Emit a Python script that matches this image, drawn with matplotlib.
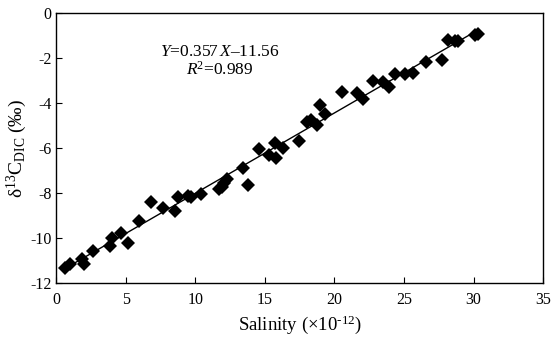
import matplotlib.pyplot as plt

# salinity (x10^-12) and d13C-DIC (permil)
salinity = [0.61, 0.97, 1.86, 1.98, 2.6, 3.85, 3.97, 4.62, 5.17, 5.96,
            6.78, 7.69, 8.53, 8.72, 9.44, 9.65, 10.37, 11.71, 11.88, 12.05,
            12.29, 13.39, 13.75, 14.59, 15.31, 15.72, 15.79, 16.32, 17.47, 18.0,
            18.29, 18.72, 18.96, 19.32, 20.52, 21.64, 22.03, 22.79, 23.51, 23.93,
            24.35, 25.07, 25.63, 26.58, 27.76, 28.19, 28.67, 28.91, 30.11, 30.3]
d13c = [-11.32, -11.13, -10.91, -11.13, -10.54, -10.32, -9.99, -9.77, -10.19, -9.21,
        -8.39, -8.66, -8.76, -8.14, -8.1, -8.14, -8.04, -7.81, -7.7, -7.55,
        -7.36, -6.88, -7.62, -6.02, -6.29, -5.77, -6.41, -5.99, -5.67, -4.81,
        -4.73, -4.96, -4.07, -4.48, -3.48, -3.55, -3.81, -2.99, -3.03, -3.29,
        -2.69, -2.69, -2.63, -2.17, -2.07, -1.18, -1.21, -1.21, -0.96, -0.91]

# fit line from the figure
slope = 0.357
intercept = -11.56
fit_x = [0.5, 30.3]
fit_y = [slope * v + intercept for v in fit_x]

plt.rcParams['font.family'] = ['Liberation Serif', 'DejaVu Serif']
plt.rcParams['mathtext.fontset'] = 'custom'
plt.rcParams['mathtext.rm'] = 'Liberation Serif'
plt.rcParams['mathtext.it'] = 'Liberation Serif:italic'
plt.rcParams['axes.unicode_minus'] = False

fig = plt.figure(figsize=(5.53, 3.37), dpi=100)
ax = fig.add_axes([0.102, 0.159, 0.880, 0.801])

ax.plot(fit_x, fit_y, color='black', lw=1.0, zorder=2)
ax.plot(salinity, d13c, 'D', color='black', ms=7, mew=0, zorder=3)

ax.set_xlim(0, 35)
ax.set_ylim(-12, 0)
ax.set_xticks(range(0, 36, 5))
ax.set_yticks(range(-12, 1, 2))
ax.tick_params(direction='in', length=4, labelsize=11.5, width=0.8)
ax.tick_params(axis='x', pad=6)
for s in ax.spines.values():
    s.set_linewidth(1.0)

ax.set_xlabel(r'Salinity (×10$^{\text{-12}}$)', fontsize=13.5, labelpad=4)
ax.set_ylabel(r'δ$^{\rm 13}$C$_{\rm DIC}$ (‰)', fontsize=14, labelpad=1)

ax.text(11.76, -1.71, r'$Y$=0.357$\,X$–11.56', ha='center', va='center', fontsize=12.5)
ax.text(11.76, -2.51, r'$R$$^{\rm 2}$=0.989', ha='center', va='center', fontsize=12.5)

fig.savefig('out.png', dpi=100)
